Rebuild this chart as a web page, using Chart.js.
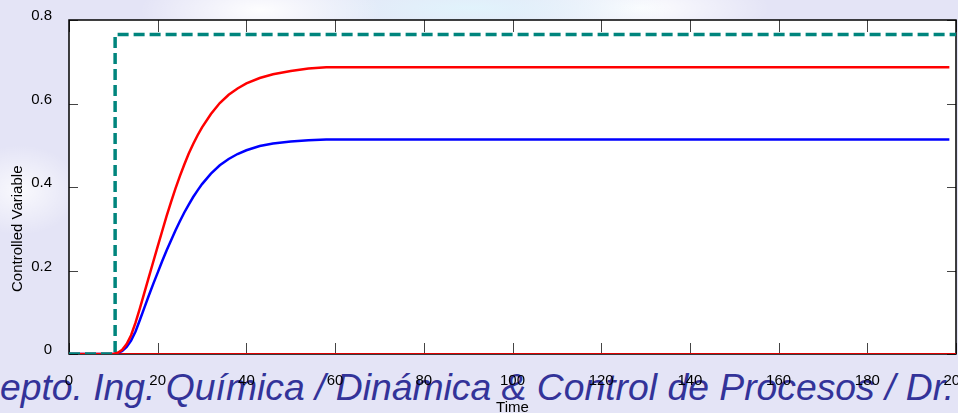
<!DOCTYPE html>
<html>
<head>
<meta charset="utf-8">
<script src="https://cdn.jsdelivr.net/npm/chart.js@4.4.1/dist/chart.umd.min.js"></script>
<style>
  html, body { margin: 0; padding: 0; overflow: hidden; }
  body {
    width: 958px; height: 413px; position: relative;
    background:
      radial-gradient(ellipse 120px 40px at 260px 10px, rgba(255,255,255,0.95), rgba(255,255,255,0) 100%),
      radial-gradient(ellipse 200px 30px at 470px 8px, rgba(225,244,252,0.95), rgba(225,244,252,0) 100%),
      radial-gradient(ellipse 130px 35px at 640px 8px, rgba(255,255,255,0.95), rgba(255,255,255,0) 100%),
      radial-gradient(ellipse 60px 45px at 20px 190px, rgba(255,255,255,0.8), rgba(255,255,255,0) 100%),
      #e4e4f6;
  }
  #banner {
    position: absolute; left: -27px; top: 369px; white-space: nowrap;
    font: italic 37.3px/37px "Liberation Sans", Arial, sans-serif; color: #333399;
  }
  #wrap { position: absolute; left: 0; top: 0; width: 958px; height: 420px; }
</style>
</head>
<body>
<div id="banner">Depto. Ing. Química / Dinámica &amp; Control de Procesos / Dr.</div>
<div id="wrap"><canvas id="chart"></canvas></div>
<script>
// time samples for the two responses
const times = [0, 10, 11, 12, 13, 14, 15, 16, 17, 18, 19, 20, 21, 22, 23, 24, 25, 26, 27, 28, 29, 30,
  32, 34, 36, 38, 40, 43, 46, 50, 54, 58, 198.5]
const redValues = [0, 0, 0.003, 0.01, 0.024, 0.045, 0.075, 0.11, 0.147, 0.184, 0.221, 0.258, 0.294, 0.33, 0.364, 0.396, 0.426, 0.454, 0.48, 0.503, 0.524, 0.543,
  0.575, 0.601, 0.621, 0.636, 0.648, 0.661, 0.670, 0.678, 0.684, 0.687, 0.687]
const blueValues = [0, 0, 0.002, 0.007, 0.017, 0.032, 0.054, 0.082, 0.111, 0.140, 0.168, 0.195, 0.222, 0.248, 0.272, 0.296, 0.318, 0.339, 0.358, 0.376, 0.392, 0.407,
  0.432, 0.452, 0.467, 0.479, 0.488, 0.498, 0.504, 0.509, 0.512, 0.514, 0.514]
const setpointTimes = [0, 10.4, 10.4, 200]
const setpointValues = [0, 0, 0.765, 0.765]
const zeroTimes = [0, 200]
const zeroValues = [0, 0]
const xTicks = [0, 20, 40, 60, 80, 100, 120, 140, 160, 180, 200]
const yTicks = [0, 0.2, 0.4, 0.6, 0.8]
const yLabel = "Controlled Variable"

const toPoints = (xs, ys) => xs.map((x, i) => ({ x: x, y: ys[i] }))
const fontFam = "'Liberation Sans', Arial, sans-serif"

// white plot box, frame and inward ticks like matlab
const framePlugin = {
  id: "frame",
  beforeDatasetsDraw(chart) {
    const { ctx, chartArea: a, scales } = chart
    ctx.save()
    ctx.fillStyle = "#fff"
    ctx.fillRect(a.left, a.top, a.right - a.left, a.bottom - a.top)
    ctx.strokeStyle = "#444"
    ctx.lineWidth = 1
    ctx.beginPath()
    xTicks.forEach(v => {
      const px = Math.round(scales.x.getPixelForValue(v)) + 0.5
      ctx.moveTo(px, a.top); ctx.lineTo(px, a.top + 12)
      ctx.moveTo(px, a.bottom); ctx.lineTo(px, a.bottom - 11)
    })
    yTicks.forEach(v => {
      const py = Math.round(scales.y.getPixelForValue(v)) + 0.5
      ctx.moveTo(a.left, py); ctx.lineTo(a.left + 9, py)
      ctx.moveTo(a.right, py); ctx.lineTo(a.right - 9, py)
    })
    ctx.stroke()
    ctx.strokeStyle = "#000"
    ctx.lineWidth = 1.5
    ctx.strokeRect(a.left, a.top, a.right - a.left, a.bottom - a.top)
    ctx.restore()
  },
  // y label sits lower than the axis centre in the original
  afterDraw(chart) {
    const { ctx, scales } = chart
    ctx.save()
    ctx.translate(18, scales.y.getPixelForValue(0.3))
    ctx.rotate(-Math.PI / 2)
    ctx.textAlign = "center"
    ctx.textBaseline = "middle"
    ctx.fillStyle = "#000"
    ctx.font = "15px " + fontFam
    ctx.fillText(yLabel, 0, 0)
    ctx.restore()
  }
}

new Chart("chart", {
  type: "line",
  data: {
    datasets: [
      {
        data: toPoints(setpointTimes, setpointValues),
        borderColor: "#00857d",
        borderWidth: 3.5,
        borderDash: [11, 5],
      },
      {
        data: toPoints(times, redValues),
        borderColor: "#ff0000",
        borderWidth: 2.5,
      },
      {
        data: toPoints(times, blueValues),
        borderColor: "#0000ff",
        borderWidth: 2.5,
      },
      {
        data: toPoints(zeroTimes, zeroValues),
        borderColor: "#dd0000",
        borderWidth: 2,
      },
    ]
  },
  options: {
    responsive: true,
    maintainAspectRatio: false,
    animation: false,
    layout: { padding: { top: 20, right: 2, left: 0, bottom: 0 } },
    elements: {
      point: { radius: 0 },
      line: { tension: 0, fill: false },
    },
    plugins: {
      legend: { display: false },
      tooltip: { enabled: false },
    },
    scales: {
      x: {
        type: "linear",
        min: 0,
        max: 200,
        grid: { display: false },
        border: { display: false },
        afterFit(s) { s.height = 66; s.paddingLeft = 0; s.paddingRight = 0 },
        afterBuildTicks(s) { s.ticks = xTicks.map(v => ({ value: v })) },
        ticks: {
          color: "#000",
          padding: 10,
          maxRotation: 0,
          autoSkip: false,
          font: { family: fontFam, size: 15 },
        },
        title: {
          display: true,
          text: "Time",
          color: "#000",
          padding: { top: 0, bottom: 3 },
          font: { family: fontFam, size: 15 },
        },
      },
      y: {
        min: 0,
        max: 0.8,
        grid: { display: false },
        border: { display: false },
        afterFit(s) { s.width = 69; s.paddingTop = 0; s.paddingBottom = 0 },
        afterBuildTicks(s) { s.ticks = yTicks.map(v => ({ value: v })) },
        ticks: {
          color: "#000",
          padding: 9,
          labelOffset: -4,
          font: { family: fontFam, size: 15 },
          callback: v => v === 0 ? "0" : v.toFixed(1),
        },
      },
    },
  },
  plugins: [framePlugin],
})
</script>
</body>
</html>
